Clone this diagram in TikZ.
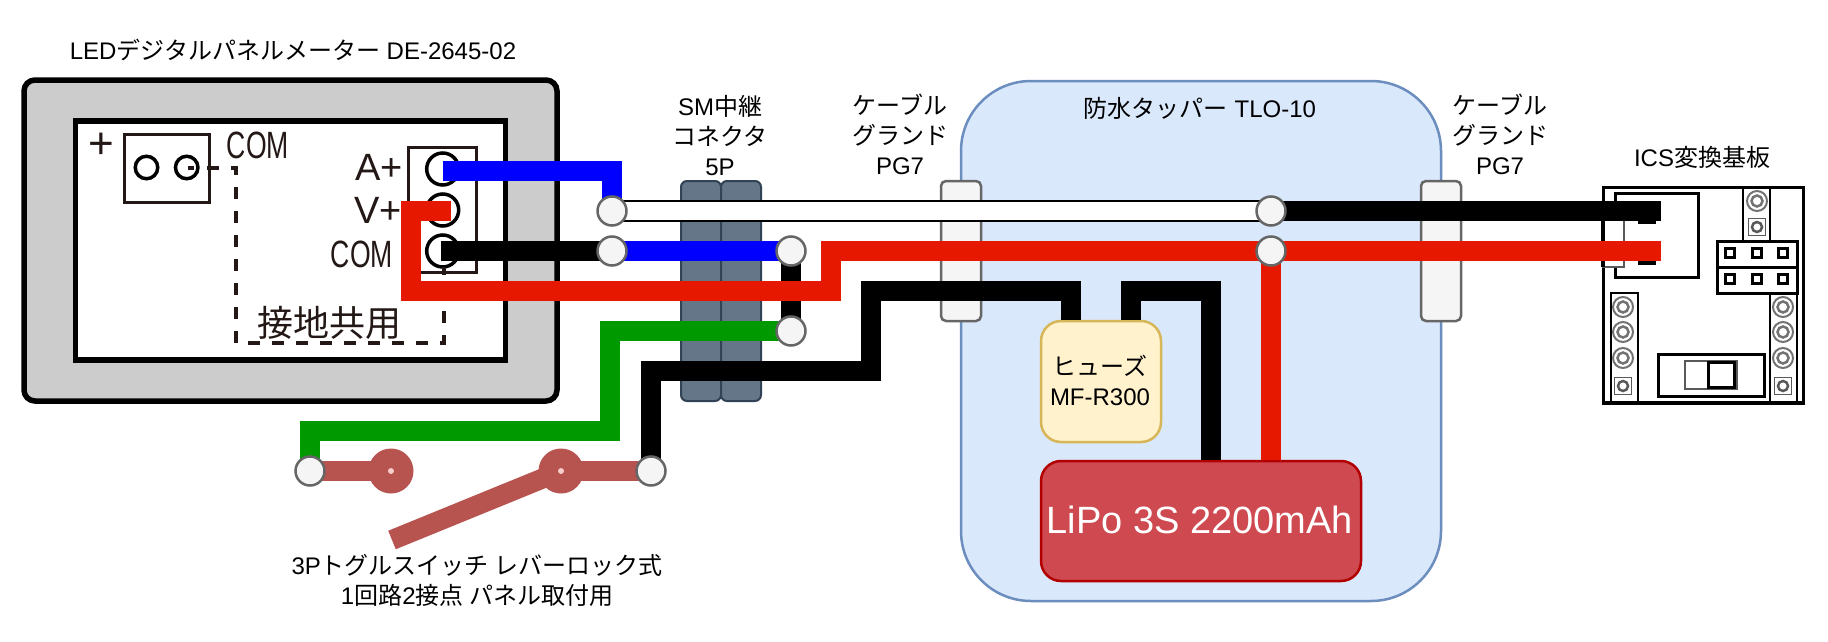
\documentclass[tikz,border=0pt]{standalone}
\usepackage{fontspec}
\setmainfont{Liberation Sans}
\newfontfamily\cjk{Noto Sans CJK JP}
\newcommand{\jp}[1]{{\cjk #1}}
\usepackage{tikz}
\usetikzlibrary{calc}
\definecolor{wirered}{HTML}{E61900}
\definecolor{wireblue}{HTML}{0000FF}
\definecolor{wiregreen}{HTML}{009900}
\definecolor{inkdark}{HTML}{231815}
\definecolor{tubfill}{HTML}{DAE8FC}
\definecolor{tubedge}{HTML}{6C8EBF}
\definecolor{fusefill}{HTML}{FFF2CC}
\definecolor{fuseedge}{HTML}{D6B656}
\definecolor{lipofill}{HTML}{CE4A50}
\definecolor{lipoedge}{HTML}{B20000}
\definecolor{smfill}{HTML}{647687}
\definecolor{smedge}{HTML}{314354}
\definecolor{jointfill}{HTML}{F5F5F5}
\definecolor{jointedge}{HTML}{666666}
\definecolor{swcolor}{HTML}{B85450}
\definecolor{swdot}{HTML}{F8CECC}
\pgfdeclarelayer{base}
\pgfdeclarelayer{wires}
\pgfsetlayers{base,wires,main}
\tikzset{
    lbl/.style={align=center, inner sep=0pt, font=\fontsize{24}{30}\selectfont},
    metertext/.style={inner sep=0pt, text=inkdark, font=\fontsize{38}{38}\selectfont},
    box/.style={rectangle, inner sep=0pt, outer sep=0pt},
    gland/.style={box, draw=jointedge, fill=jointfill, line width=2.5pt, rounded corners=5pt, minimum width=40pt, minimum height=140pt},
    smhalf/.style={box, draw=smedge, fill=smfill, line width=2pt, rounded corners=6pt, minimum width=40pt, minimum height=220pt},
    joint/.style={circle, inner sep=0pt, draw=jointedge, fill=jointfill, line width=2.5pt, minimum size=29pt},
    wire/.style={line width=20pt},
    hole/.style={circle, inner sep=0pt, draw=black, line width=3.5pt},
    swpad/.style={circle, inner sep=0pt, fill=swcolor, minimum size=45pt},
    swmark/.style={circle, inner sep=0pt, fill=swdot, minimum size=6pt},
    ring/.style={circle, inner sep=0pt, draw=black!55, line width=2pt, minimum size=20pt,
        path picture={\draw [line width=2.5pt] (path picture bounding box.center) circle (5.5pt);}},
    squarepin/.style={box, draw=black!65, line width=1.5pt, minimum size=17pt,
        path picture={\draw [line width=2.5pt] (path picture bounding box.center) circle (5pt);}},
    jumperpin/.style={box, draw=black, line width=3pt, minimum size=9pt},
    pcb/.style={box, draw=black, line width=3pt},
}

\begin{document}
\begin{tikzpicture}[x=1pt, y=-1pt]
    \useasboundingbox (0, 0) rectangle (1828, 642);
    \begin{pgfonlayer}{base}
        % Panel meter
        \node [box, draw=black, fill=black!20, line width=5.5pt, rounded corners=11pt, minimum width=533pt, minimum height=321pt] (meter) at (290.5, 240.5) {};
        \node [box, draw=black, fill=white, line width=5.5pt, minimum width=430pt, minimum height=239pt] (screen) at (290.5, 240.5) {};
        \node [lbl] (metertitle) at (293, 50) {LED\jp{デジタルパネルメーター} DE-2645-02};
        % Power terminal
        \node [box, draw=inkdark, line width=3pt, minimum width=85pt, minimum height=68pt] (powerblock) at (166.5, 168) {};
        \node [hole, minimum size=22.5pt] (powerplus) at (146.5, 167.5) {};
        \node [hole, minimum size=22.5pt] (powercom) at (186.7, 167.5) {};
        \node [box, fill=inkdark, minimum width=6pt, minimum height=4pt] (powerdot) at (190.5, 168) {};
        \node [metertext, font=\fontsize{44}{44}\selectfont] (plussign) at (101.5, 145.5) {+};
        \node [metertext] (comtop) at (258, 145) {\scalebox{0.7}[1]{COM}};
        % Signal terminal
        \node [box, draw=inkdark, line width=3.5pt, minimum width=68pt, minimum height=125pt] (signalblock) at (442.7, 210) {};
        \node [hole, minimum size=32pt] (holea) at (442.7, 169) {};
        \node [hole, minimum size=32pt] (holev) at (442.7, 210) {};
        \node [hole, minimum size=32pt] (holec) at (442.7, 251) {};
        \node [metertext] (texta) at (379, 167) {A+};
        \node [metertext] (textv) at (378, 210) {V+};
        \node [metertext] (textc) at (362, 254) {\scalebox{0.7}[1]{COM}};
        % Shared ground
        \coordinate (gndS) at (207, 168);
        \coordinate (gndA) at (236, 343);
        \coordinate (gndB) at (443.5, 267);
        \draw [inkdark, line width=4pt, dash pattern=on 12pt off 12pt] (gndS) -| (gndA) -| (gndB);
        \node [lbl, text=inkdark, font=\fontsize{36}{36}\selectfont] (gndtext) at (329, 323) {\jp{接地共用}};
        % Waterproof box
        \node [box, draw=tubedge, fill=tubfill, line width=2.5pt, rounded corners=70pt, minimum width=480pt, minimum height=520pt] (tub) at (1201, 341) {};
        \node [lbl] (tubtitle) at (1200, 108) {\jp{防水タッパー} TLO-10};
        % Cable glands
        \node [gland] (glandl) at (961, 251) {};
        \node [gland] (glandr) at (1441, 251) {};
        \node [lbl] (glandltext) at (900, 134) {\jp{ケーブル}\\\jp{グランド}\\PG7};
        \node [lbl] (glandrtext) at (1500, 134) {\jp{ケーブル}\\\jp{グランド}\\PG7};
        % Relay connector
        \node [smhalf] (sma) at (701, 291) {};
        \node [smhalf] (smb) at (741, 291) {};
        \node [lbl] (smtext) at (720, 136) {SM\jp{中継}\\\jp{コネクタ}\\5P};
        % Fuse and battery
        \node [box, draw=fuseedge, fill=fusefill, line width=2.5pt, rounded corners=20pt, minimum width=120pt, minimum height=121pt] (fuse) at (1101, 381.5) {};
        \node [lbl] (fusetext) at (1100, 380) {\jp{ヒューズ}\\MF-R300};
        \node [box, draw=lipoedge, fill=lipofill, line width=2.5pt, rounded corners=20pt, minimum width=320pt, minimum height=120pt] (lipo) at (1201, 521) {};
        \node [lbl, text=white, font=\fontsize{38}{38}\selectfont] (lipotext) at (1200, 520) {LiPo 3S 2200mAh};
        % ICS board
        \node [lbl] (boardtext) at (1702, 157) {ICS\jp{変換基板}};
        \node [pcb, fill=white, minimum width=200pt, minimum height=216pt] (board) at (1703, 295) {};
        \node [pcb, minimum width=83pt, minimum height=84pt] (socket) at (1656.5, 235) {};
        \node [box, draw=black!65, fill=white, line width=1.5pt, minimum width=21pt, minimum height=47pt] (socketlip) at (1613.5, 243.5) {};
        \draw [black, line width=4pt] (socketlip.north west) -- (socketlip.south west);
        \node [box, fill=black, minimum width=18pt, minimum height=3pt] (socketpina) at (1647, 222) {};
        \node [box, fill=black, minimum width=18pt, minimum height=4pt] (socketpinb) at (1647, 263) {};
        \node [pcb, line width=1.5pt, minimum width=27pt, minimum height=53pt] (coltop) at (1756.5, 214) {};
        \node [ring] (coltopa) at (1757, 201) {};
        \node [squarepin] (coltopb) at (1757, 227) {};
        \node [pcb, fill=white, minimum width=80pt, minimum height=26pt] (jumpa) at (1757, 254) {};
        \node [pcb, fill=white, minimum width=80pt, minimum height=26pt] (jumpb) at (1757, 280) {};
        \node [jumperpin] (jumpa1) at (1730, 253) {};
        \node [jumperpin] (jumpa2) at (1757, 253) {};
        \node [jumperpin] (jumpa3) at (1783, 253) {};
        \node [jumperpin] (jumpb1) at (1730, 279) {};
        \node [jumperpin] (jumpb2) at (1757, 279) {};
        \node [jumperpin] (jumpb3) at (1783, 279) {};
        \node [pcb, line width=1.5pt, minimum width=27pt, minimum height=109pt] (colleft) at (1624.5, 347.5) {};
        \node [ring] (colleft1) at (1623, 307) {};
        \node [ring] (colleft2) at (1623, 332) {};
        \node [ring] (colleft3) at (1623, 358) {};
        \node [squarepin] (colleft4) at (1623, 386) {};
        \node [pcb, line width=1.5pt, minimum width=27pt, minimum height=109pt] (colright) at (1783.5, 347.5) {};
        \node [ring] (colright1) at (1783, 307) {};
        \node [ring] (colright2) at (1783, 332) {};
        \node [ring] (colright3) at (1783, 358) {};
        \node [squarepin] (colright4) at (1783, 386) {};
        \node [pcb, line width=3pt, minimum width=106pt, minimum height=42pt] (slide) at (1711.5, 375) {};
        \node [pcb, draw=black!65, line width=1.5pt, minimum width=52pt, minimum height=28pt] (slidetrack) at (1711, 375) {};
        \node [pcb, line width=3.5pt, minimum width=26pt, minimum height=25pt] (slidethumb) at (1721.5, 375) {};
        \draw [black, line width=4pt] (board.south west) -- (board.south east);
        % Toggle switch
        \node [lbl] (swtext) at (477, 580) {3P\jp{トグルスイッチ レバーロック式}\\1\jp{回路}2\jp{接点 パネル取付用}};
        \node [swpad] (swpada) at (391, 471) {};
        \node [swpad] (swpadb) at (561, 471) {};
        \coordinate (leverend) at (392, 540);
    \end{pgfonlayer}
    % Joints
    \node [joint] (jwa) at (612, 211) {};
    \node [joint] (jwb) at (612, 251) {};
    \node [joint] (jwc) at (791, 251) {};
    \node [joint] (jwd) at (791, 331) {};
    \node [joint] (jte) at (1271, 211) {};
    \node [joint] (jtf) at (1271, 251) {};
    \node [joint] (jsa) at (310, 471) {};
    \node [joint] (jsb) at (651, 471) {};
    \node [swmark] (swmarka) at (391, 471) {};
    \node [swmark] (swmarkb) at (561, 471) {};
    % Free ends and bends
    \coordinate (pina) at (442.7, 171);
    \coordinate (pinv) at (450.6, 211);
    \coordinate (pinc) at (441, 251);
    \coordinate (bendr) at (411, 211);
    \coordinate (bendrr) at (831, 291);
    \coordinate (icsblack) at (1661, 211);
    \coordinate (icsred) at (1661, 251);
    \coordinate (bendg) at (610, 431);
    \coordinate (bendk) at (871, 371);
    \coordinate (bendkk) at (1071, 291);
    \coordinate (fusein) at (1071, 320);
    \coordinate (fuseout) at (1131, 320);
    \coordinate (bendl) at (1211, 291);
    \coordinate (lipoblack) at (1211, 460);
    \coordinate (lipored) at (1271, 460);
    \begin{pgfonlayer}{wires}
        % Switch
        \draw [wire, swcolor] (jsa.center) -- (swpada.center);
        \draw [wire, swcolor] (jsb.center) -- (swpadb.center);
        \draw [wire, swcolor] (swpadb.center) -- (leverend);
        % Signal and ground
        \draw [wire, wireblue] (pina) -| (jwa.center);
        \draw [wire, black] (pinc) -- (jwb.center);
        \draw [wire, wireblue] (jwb.center) -- (jwc.center);
        \draw [wire, black] (jwc.center) -- (jwd.center);
        \draw [wire, wiregreen] (jwd.center) -| (bendg) -| (jsa.center);
        \draw [line width=1.7pt, double=white, double distance=18.4pt] (jwa.center) -- (jte.center);
        \draw [wire, black] (jte.center) -- (icsblack);
        % Battery side
        \draw [wire, black] (jsb.center) |- (bendk) |- (bendkk) -- (fusein);
        \draw [wire, black] (fuseout) |- (bendl) -- (lipoblack);
        \draw [wire, wirered] (pinv) -- (bendr) |- (bendrr) |- (jtf.center) -- (icsred);
        \draw [wire, wirered] (jtf.center) -- (lipored);
    \end{pgfonlayer}
\end{tikzpicture}
\end{document}
